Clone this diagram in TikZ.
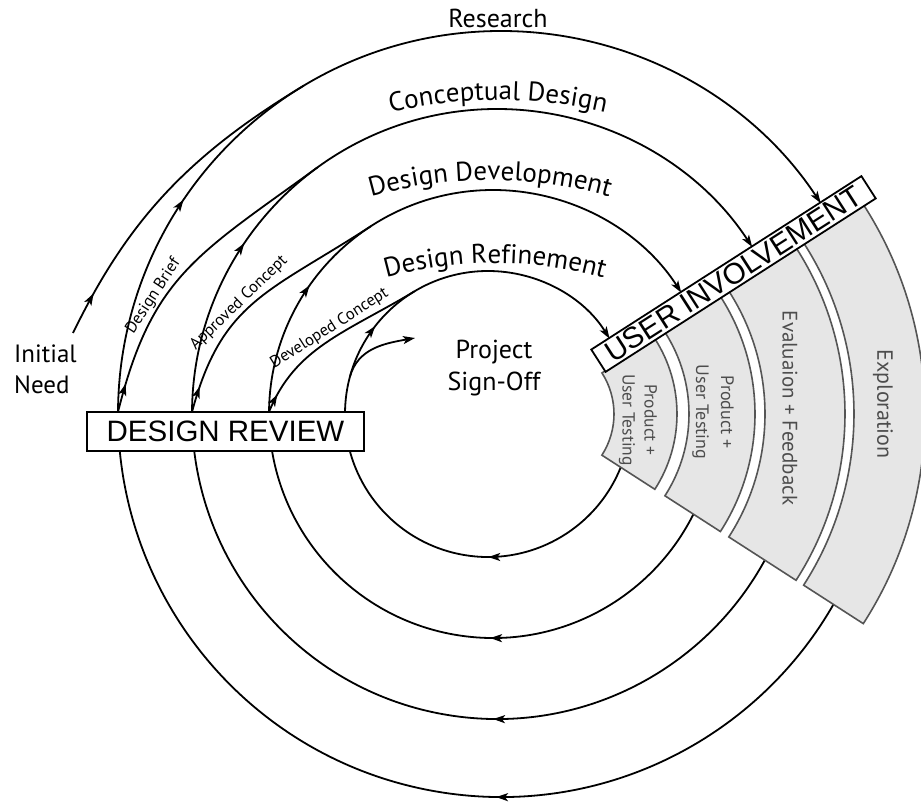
\documentclass[tikz,border=0pt]{standalone}
\usepackage{fontspec}
\setmainfont{PT Sans}
\newfontfamily\arialfont{Liberation Sans}
\usetikzlibrary{arrows.meta,decorations.markings,decorations.text,calc}
\definecolor{panelfill}{HTML}{E6E6E6}
\definecolor{panelline}{HTML}{555555}
\definecolor{paneltext}{HTML}{4D4D4D}
\newcommand\arcfont{\fontsize{27pt}{27pt}\selectfont}
\begin{document}
\begin{tikzpicture}[x=1pt,y=1pt,
  >={Stealth[length=12pt,width=8pt,inset=3pt]},
  line/.style={line width=1.8pt},
  midarrow/.style={postaction={decorate,decoration={markings,mark=at position #1 with {\arrow{>}}}}},
  panel/.style={fill=panelfill, draw=panelline, line width=1.6pt},
  ptext/.style={text=paneltext, rotate=-90, align=center, inner sep=0pt},
  drbox/.style={draw, fill=white, line width=1.4pt, minimum width=277pt, minimum height=39pt, inner sep=0pt, font=\arialfont\fontsize{29.5pt}{29.5pt}\selectfont},
  uibox/.style={draw, fill=white, line width=1.8pt, minimum width=321pt, minimum height=26.5pt, inner sep=0pt, font=\arialfont\fontsize{29.5pt}{29.5pt}\selectfont},
  smalllabel/.style={font=\fontsize{16.5pt}{16.5pt}\selectfont, inner sep=1.5pt},
]
\useasboundingbox (0,0) rectangle (921,801);

% centres
\coordinate (c0) at (501,387);
\coordinate (c1) at (497,387);
\coordinate (c2) at (493,387);
\coordinate (c3) at (488,387);
\coordinate (pc) at (538,387);

% named points
\coordinate (IN) at (73,468);
\coordinate (L0) at (118,389);
\coordinate (L1) at (192,389);
\coordinate (L2) at (269,389);
\coordinate (S0) at ($(c3)+(165:143)$);
\coordinate (S1) at (415,463);
\coordinate (M0) at ($(c0)+(121:383)$);
\coordinate (M1) at ($(c1)+(126:305)$);
\coordinate (M2) at ($(c2)+(123:224)$);
\coordinate (M3) at ($(c3)+(121:143)$);

% upper arcs (towards user involvement)
\draw[line,->,midarrow=0.232] ($(c0)+(180:383)$) arc[start angle=180,end angle=33.4,radius=383];
\draw[line,->,midarrow=0.232] ($(c1)+(180:305)$) arc[start angle=180,end angle=33.2,radius=305];
\draw[line,->,midarrow=0.238] ($(c2)+(180:224)$) arc[start angle=180,end angle=32.8,radius=224];
\draw[line,->,midarrow=0.256] ($(c3)+(180:143)$) arc[start angle=180,end angle=31.8,radius=143];

% lower arcs (back to design review)
\draw[line,midarrow=0.475] ($(c0)+(-10:383)$) arc[start angle=-10,end angle=-180,radius=383];
\draw[line,midarrow=0.475] ($(c1)+(-10:305)$) arc[start angle=-10,end angle=-180,radius=305];
\draw[line,midarrow=0.475] ($(c2)+(-10:224)$) arc[start angle=-10,end angle=-180,radius=224];
\draw[line,midarrow=0.47] ($(c3)+(-10:143)$) arc[start angle=-10,end angle=-180,radius=143];

% branching curves
\draw[line,midarrow=0.13] (IN) .. controls +(64:120) and +(211:140) .. (M0);
\draw[line,midarrow=0.09] (L0) .. controls +(76:140) and +(216:150) .. (M1)
  node[smalllabel,pos=0.36,sloped,above] {Design Brief};
\draw[line,midarrow=0.1] (L1) .. controls +(75:115) and +(213:123) .. (M2)
  node[smalllabel,pos=0.45,sloped,above] {Approved Concept};
\draw[line,midarrow=0.1] (L2) .. controls +(68:70) and +(211:80) .. (M3)
  node[smalllabel,pos=0.56,sloped,above] {Developed Concept};
\draw[line,->] (S0) .. controls +(75:30) and +(190:30) .. (S1);

% user involvement panels
\filldraw[panel] ($(pc)+(32.7:76)$) arc[start angle=32.7,end angle=-32.8,radius=76]
  -- ($(pc)+(-32.8:139)$) arc[start angle=-32.8,end angle=32.7,radius=139] -- cycle;
\filldraw[panel] ($(pc)+(32.7:151)$) arc[start angle=32.7,end angle=-32.8,radius=151]
  -- ($(pc)+(-32.8:217)$) arc[start angle=-32.8,end angle=32.7,radius=217] -- cycle;
\filldraw[panel] ($(pc)+(32.7:227)$) arc[start angle=32.7,end angle=-32.8,radius=227]
  -- ($(pc)+(-32.8:307)$) arc[start angle=-32.8,end angle=32.7,radius=307] -- cycle;
\filldraw[panel] ($(pc)+(32.7:316)$) arc[start angle=32.7,end angle=-32.8,radius=316]
  -- ($(pc)+(-32.8:387)$) arc[start angle=-32.8,end angle=32.7,radius=387] -- cycle;

\node[ptext,font=\fontsize{17.5pt}{22pt}\selectfont] (p1) at (638,381) {Product +\\User Testing};
\node[ptext,font=\fontsize{18pt}{25pt}\selectfont] (p2) at (713,389) {Product +\\User Testing};
\node[ptext,font=\fontsize{21pt}{21pt}\selectfont] (p3) at (790,393) {Evaluaion + Feedback};
\node[ptext,font=\fontsize{22pt}{22pt}\selectfont] (p4) at (883,397) {Exploration};

% boxes
\node[drbox] (dr) at (225.5,369.5) {DESIGN REVIEW};
\node[uibox,rotate=32.7] (ui) at (733.5,527) {USER INVOLVEMENT};

% labels
\node[font=\fontsize{26pt}{26pt}\selectfont,anchor=base,inner sep=0pt] (research) at (498,773) {Research};
\path[decorate,decoration={text along path,text align=center,text={|\arcfont|Conceptual Design}}]
  ($(498,227)+(115:474)$) arc[start angle=115,end angle=65,radius=474];
\path[decorate,decoration={text along path,text align=center,text={|\arcfont|Design Development}}]
  ($(490,189)+(115:432)$) arc[start angle=115,end angle=65,radius=432];
\path[decorate,decoration={text along path,text align=center,text={|\arcfont|Design Refinement}}]
  ($(495,135)+(115:403)$) arc[start angle=115,end angle=65,radius=403];

\node[font=\fontsize{25pt}{31pt}\selectfont,align=left,inner sep=0pt,anchor=west] (need) at (14,432) {Initial\\Need};
\node[font=\fontsize{26pt}{32pt}\selectfont,align=center,inner sep=0pt] (signoff) at (494,433) {Project\\Sign-Off};
\end{tikzpicture}
\end{document}
